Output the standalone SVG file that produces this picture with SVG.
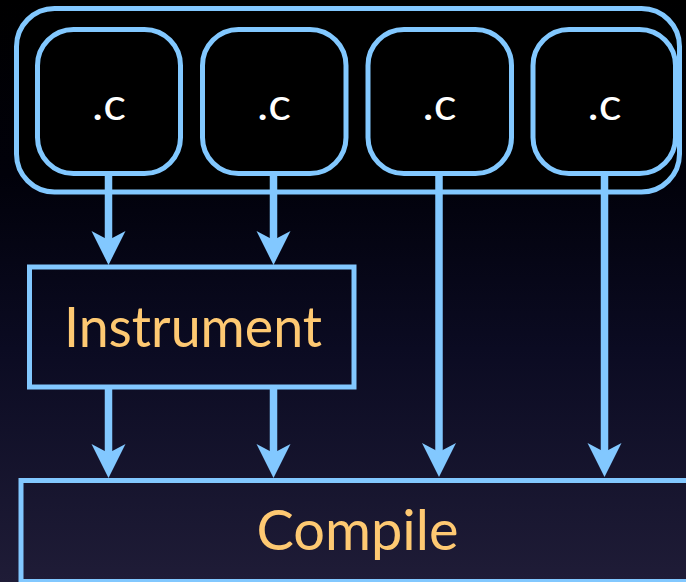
<svg xmlns="http://www.w3.org/2000/svg" width="686" height="582" viewBox="0 0 686 582">
  <defs>
    <linearGradient id="bg" x1="0" y1="0" x2="0" y2="1">
      <stop offset="0" stop-color="#000000"/>
      <stop offset="0.3" stop-color="#01010a"/>
      <stop offset="0.6" stop-color="#0b0b22"/>
      <stop offset="1" stop-color="#1f1c37"/>
    </linearGradient>
    <marker id="arrow" viewBox="-10 -18 36 36" markerWidth="36" markerHeight="36" refX="0" refY="0" markerUnits="userSpaceOnUse" orient="auto">
      <path d="M25,0 L-9,-17 L0,0 L-9,17 Z" fill="#82c8ff"/>
    </marker>
    <style>
      .box { fill: none; stroke: #82c8ff; stroke-width: 5; }
      .file { fill: #000000; stroke: #82c8ff; stroke-width: 5; }
      .conn { stroke: #82c8ff; stroke-width: 7.5; fill: none; marker-end: url(#arrow); }
      .ctext { font-family: "Lato", "Liberation Sans", sans-serif; font-size: 44px; fill: #ffffff; text-anchor: middle; }
      .label { font-family: "Lato", "Liberation Sans", sans-serif; font-size: 57px; fill: #fec972; text-anchor: middle; }
    </style>
  </defs>
  <rect x="0" y="0" width="686" height="582" fill="url(#bg)"/>

  <g id="sources">
    <rect x="16.5" y="8.5" width="663" height="183.5" rx="38" ry="38" class="box" fill="#000000" style="fill:#000000"/>
  </g>
  <g id="file1">
    <rect x="37.5" y="29.5" width="143" height="144" rx="36" ry="36" class="file"/>
    <text x="109" y="120" class="ctext" textLength="34" lengthAdjust="spacingAndGlyphs">.c</text>
  </g>
  <g id="file2">
    <rect x="202.5" y="29.5" width="143.5" height="144" rx="36" ry="36" class="file"/>
    <text x="274" y="120" class="ctext" textLength="34" lengthAdjust="spacingAndGlyphs">.c</text>
  </g>
  <g id="file3">
    <rect x="368" y="29.5" width="143.5" height="144" rx="36" ry="36" class="file"/>
    <text x="439.5" y="120" class="ctext" textLength="34" lengthAdjust="spacingAndGlyphs">.c</text>
  </g>
  <g id="file4">
    <rect x="533" y="29.5" width="142.5" height="144" rx="36" ry="36" class="file"/>
    <text x="604.5" y="120" class="ctext" textLength="34" lengthAdjust="spacingAndGlyphs">.c</text>
  </g>
  <g id="instrument">
    <rect x="29.5" y="267" width="324.5" height="120" class="box"/>
    <text x="193" y="347" class="label" textLength="258" lengthAdjust="spacingAndGlyphs">Instrument</text>
  </g>
  <g id="compile">
    <rect x="21" y="480.5" width="680" height="101" class="box"/>
    <text x="357.5" y="550" class="label" textLength="202" lengthAdjust="spacingAndGlyphs">Compile</text>
  </g>

  <g id="connectors">
    <line x1="108.5" y1="174" x2="108.5" y2="240" class="conn"/>
    <line x1="273.5" y1="174" x2="273.5" y2="240" class="conn"/>
    <line x1="108.5" y1="389" x2="108.5" y2="453" class="conn"/>
    <line x1="273.5" y1="389" x2="273.5" y2="453" class="conn"/>
    <line x1="439" y1="174" x2="439" y2="452" class="conn"/>
    <line x1="604.5" y1="174" x2="604.5" y2="452" class="conn"/>
  </g>
</svg>
